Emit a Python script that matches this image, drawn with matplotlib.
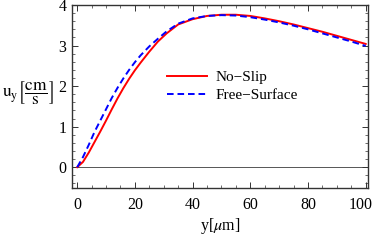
import matplotlib
matplotlib.use("Agg")
import matplotlib.pyplot as plt
from matplotlib.ticker import MultipleLocator
import matplotlib.transforms as mtransforms

plt.rcParams['font.family'] = ['Liberation Serif', 'DejaVu Serif']
plt.rcParams['mathtext.fontset'] = 'stix'

y_pos = [0, 2, 4, 6, 8, 10, 12, 14, 16, 18, 20, 22, 25, 28, 31, 35, 40, 45, 50,
         55, 60, 65, 70, 75, 80, 85, 90, 95, 100]
u_noslip = [0, 0.13, 0.36, 0.62, 0.88, 1.15, 1.43, 1.70, 1.95, 2.18, 2.39, 2.58,
            2.85, 3.10, 3.30, 3.52, 3.65, 3.73, 3.76, 3.76, 3.73, 3.67, 3.60,
            3.52, 3.43, 3.34, 3.24, 3.14, 3.04]
u_freesurf = [0, 0.25, 0.55, 0.87, 1.15, 1.43, 1.71, 1.96, 2.19, 2.40, 2.59, 2.76,
              2.98, 3.17, 3.35, 3.54, 3.67, 3.73, 3.75, 3.74, 3.70, 3.64, 3.57,
              3.49, 3.40, 3.30, 3.20, 3.10, 2.99]
labels = ['No\u2212Slip', 'Free\u2212Surface']

fig = plt.figure(figsize=(3.74, 2.42), dpi=100)
ax = fig.add_axes([72/374, 1-187.5/242, (368-72)/374, (187.5-5)/242])

ax.axhline(0, color='#555555', lw=0.7, zorder=1)
ax.plot(y_pos, u_noslip, color='#ff0000', lw=1.4, label=labels[0], zorder=3)
ax.plot(y_pos, u_freesurf, color='#0000ff', lw=1.4, ls=(0, (3.4, 2.0)), label=labels[1], zorder=4)

ax.set_xlim(-1.8, 100.8)
ax.set_ylim(-0.5, 4.0)
ax.xaxis.set_major_locator(MultipleLocator(20))
ax.xaxis.set_minor_locator(MultipleLocator(5))
ax.yaxis.set_major_locator(MultipleLocator(1))
ax.yaxis.set_minor_locator(MultipleLocator(0.2))
ax.tick_params(which='both', direction='in', top=True, right=True, color='#333333')
ax.tick_params(which='major', length=4, width=0.7, labelsize=11.5, pad=4)
ax.tick_params(axis='x', which='major', pad=7)
ax.tick_params(which='minor', length=2, width=0.5)
for s in ax.spines.values():
    s.set_color('#333333')
    s.set_linewidth(1.0)

fig.canvas.draw()
xt = ax.get_xticklabels()
for t in xt:
    if t.get_text() == '100':
        t.set_transform(t.get_transform() + mtransforms.ScaledTranslation(-5/100, 0, fig.dpi_scale_trans))

ax.set_xlabel('y[$\\mu$m]', fontsize=11.5, labelpad=2)
ax.set_ylabel(r'$\mathrm{u_y}\left[\dfrac{\mathrm{cm}}{\mathrm{s}}\right]$', fontsize=12.5,
              rotation=0, labelpad=0, va='center', ha='center')
ax.yaxis.set_label_coords(-0.15, 0.52)

leg = ax.legend(loc='upper left', bbox_to_anchor=(0.295, 0.682), frameon=False,
                fontsize=11, handlelength=2.6, handletextpad=0.6, labelspacing=0.25,
                borderpad=0)

fig.savefig('out.png', dpi=100)
